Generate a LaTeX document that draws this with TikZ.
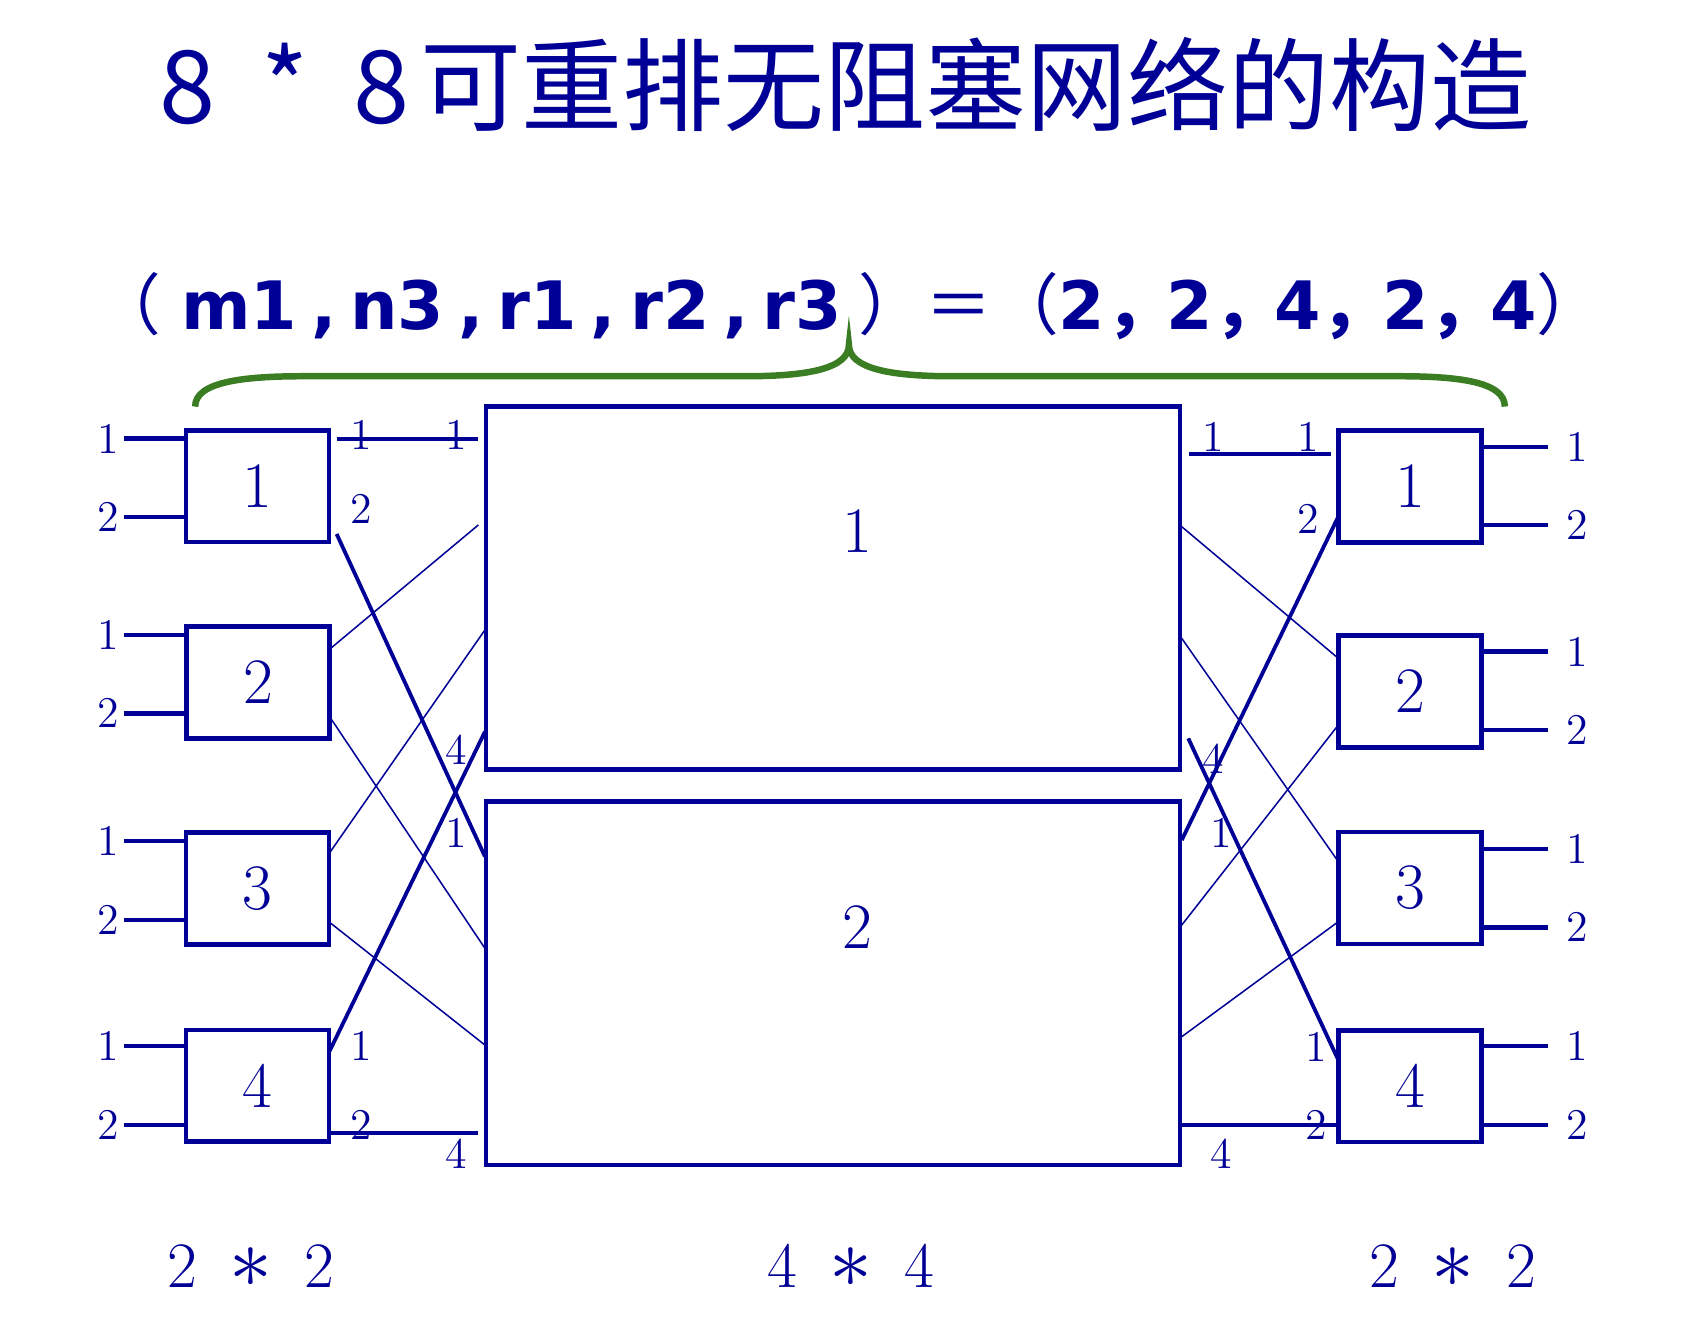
\documentclass[tikz,border=0pt]{standalone}
\usepackage{fontspec}
\usepackage{tikz}

\newfontfamily\cjk{Noto Sans CJK SC}
\newfontfamily\bsans[WordSpace=0.6]{DejaVu Sans}
\newcommand{\pbold}[1]{{\bsans\bfseries #1}}
\newcommand{\pcomma}{{\cjk\bfseries ，}\hspace{-0.08em}}

\definecolor{netblue}{RGB}{0,0,150}
\definecolor{bracegreen}{RGB}{58,125,34}

\begin{document}
\begin{tikzpicture}[x=0.01cm, y=-0.01cm,
  every node/.style={text=netblue},
  sw/.style={draw=netblue, line width=1.2pt, minimum width=1.32cm, minimum height=1.03cm, inner sep=0pt, font=\fontsize{17}{17}\selectfont},
  core/.style={draw=netblue, line width=1.2pt, minimum width=6.4cm, minimum height=3.35cm, inner sep=0pt},
  num/.style={inner sep=0pt, font=\fontsize{17}{17}\selectfont},
  lab/.style={inner sep=0pt, font=\fontsize{11.5}{11.5}\selectfont},
  inwire/.style={draw=netblue, line width=1.15pt},
  link/.style={draw=netblue, line width=1pt},
  thinlink/.style={draw=netblue, line width=0.4pt}]

\useasboundingbox (0, 0) rectangle (1568, 1229);

% title and parameters
\node [font=\cjk\fontsize{26.5}{26.5}\selectfont] (title) at (780, 78) {8\hspace{0.45em}*\hspace{0.45em}8\hspace{0.1em}可重排无阻塞网络的构造};
\node [font=\fontsize{17.5}{17.5}\selectfont] (param) at (783, 282) {{\cjk （}\hspace{0.3em}\pbold{m1 , n3 , r1 , r2 , r3}\hspace{0.25em}{\cjk ）＝（}\pbold{2}\pcomma\pbold{2}\pcomma\pbold{4}\pcomma\pbold{2}\pcomma\pbold{4}{\cjk ）}};

% brace
\draw [bracegreen, line width=1.7pt] (180, 375) .. controls (180, 352) and (225, 347) .. (280, 347) -- (688, 347)
  .. controls (745, 347) and (783, 340) .. (783, 318)
  .. controls (783, 340) and (821, 347) .. (878, 347) -- (1290, 347)
  .. controls (1345, 347) and (1388, 352) .. (1388, 375);

% switches
\node [sw] (l1) at (237.5, 448.5) {1};
\node [sw] (l2) at (238, 629.5) {2};
\node [sw] (l3) at (237.5, 819.5) {3};
\node [sw] (l4) at (237.5, 1001.5) {4};

\node [core] (m1) at (768.3, 542.3) {};
\node [core] (m2) at (768.3, 907) {};
\node [num] (m1n) at (791, 490) {1};
\node [num] (m2n) at (791, 855) {2};

\node [sw] (r1) at (1300.5, 448.7) {1};
\node [sw] (r2) at (1300.5, 637.7) {2};
\node [sw] (r3) at (1300.5, 819) {3};
\node [sw] (r4) at (1300.5, 1001.8) {4};

% inputs and outputs
\foreach \n/\ya/\yb in {1/404.5/476.6, 2/585.7/658, 3/775.7/848.6, 4/964.8/1037.6} {
  \node [lab] (lia\n) at (100, \ya) {1};
  \node [lab] (lib\n) at (100, \yb) {2};
  \coordinate (ina\n) at (114, \ya);
  \coordinate (inb\n) at (114, \yb);
  \draw [inwire] (ina\n) -- (l\n.west |- ina\n);
  \draw [inwire] (inb\n) -- (l\n.west |- inb\n);
}
\foreach \n/\ya/\yb in {1/412/484.2, 2/601/673.3, 3/783/855.3, 4/964.8/1037.6} {
  \node [lab] (roa\n) at (1455, \ya) {1};
  \node [lab] (rob\n) at (1455, \yb) {2};
  \coordinate (outa\n) at (1428, \ya);
  \coordinate (outb\n) at (1428, \yb);
  \draw [inwire] (r\n.east |- outa\n) -- (outa\n);
  \draw [inwire] (r\n.east |- outb\n) -- (outb\n);
}

% ports
\coordinate (l1o1) at (310.5, 404.9);
\coordinate (l1o2) at (310.5, 492.5);
\coordinate (l2o1) at (305, 598);
\coordinate (l2o2) at (305, 662.5);
\coordinate (l3o1) at (303.7, 787);
\coordinate (l3o2) at (304.4, 851);
\coordinate (l4o1) at (303.7, 970);
\coordinate (l4o2) at (304.4, 1044.7);

\coordinate (m1i1) at (441.2, 404.9);
\coordinate (m1i2) at (441.2, 484.2);
\coordinate (m1i3) at (447.3, 581);
\coordinate (m1i4) at (447.3, 674.9);
\coordinate (m2i1) at (447.3, 790);
\coordinate (m2i2) at (447.3, 874.7);
\coordinate (m2i3) at (447.3, 963.9);
\coordinate (m2i4) at (441.2, 1044.7);

\coordinate (m1o1) at (1096.7, 418.7);
\coordinate (m1o2) at (1090, 485.8);
\coordinate (m1o3) at (1090, 588.8);
\coordinate (m1o4) at (1096, 681);
\coordinate (m2o1) at (1090, 774.8);
\coordinate (m2o2) at (1090, 853.2);
\coordinate (m2o3) at (1090, 956.2);
\coordinate (m2o4) at (1090, 1037.6);

\coordinate (r1i1) at (1227.3, 418.7);
\coordinate (r1i2) at (1234.4, 476.5);
\coordinate (r2i1) at (1234.4, 607.2);
\coordinate (r2i2) at (1234.4, 668.7);
\coordinate (r3i1) at (1234.4, 794.7);
\coordinate (r3i2) at (1234.4, 850.1);
\coordinate (r4i1) at (1234.4, 977.7);
\coordinate (r4i2) at (1234.4, 1037.6);

% links
\draw [link] (l1o1) -- (m1i1);
\draw [link] (l1o2) -- (m2i1);
\draw [thinlink] (l2o1) -- (m1i2);
\draw [thinlink] (l2o2) -- (m2i2);
\draw [thinlink] (l3o1) -- (m1i3);
\draw [thinlink] (l3o2) -- (m2i3);
\draw [link] (l4o1) -- (m1i4);
\draw [link] (l4o2) -- (m2i4);

\draw [link] (m1o1) -- (r1i1);
\draw [thinlink] (m1o2) -- (r2i1);
\draw [thinlink] (m1o3) -- (r3i1);
\draw [link] (m1o4) -- (r4i1);
\draw [link] (m2o1) -- (r1i2);
\draw [thinlink] (m2o2) -- (r2i2);
\draw [thinlink] (m2o3) -- (r3i2);
\draw [link] (m2o4) -- (r4i2);

% port numbers
\node [lab] (pl1) at (333.6, 401) {1};
\node [lab] (pl2) at (421, 401) {1};
\node [lab] (pl3) at (333.6, 469.8) {2};
\node [lab] (pl4) at (421, 768.6) {1};
\node [lab] (pl5) at (421, 691.8) {4};
\node [lab] (pl6) at (333.6, 964.8) {1};
\node [lab] (pl7) at (333.6, 1037.6) {2};
\node [lab] (pl8) at (421, 1063.8) {4};

\node [lab] (pr1) at (1119, 403.4) {1};
\node [lab] (pr2) at (1206.7, 403.4) {1};
\node [lab] (pr3) at (1206.7, 479) {2};
\node [lab] (pr4) at (1119, 699.4) {4};
\node [lab] (pr5) at (1126.8, 768) {1};
\node [lab] (pr6) at (1214.4, 965.4) {1};
\node [lab] (pr7) at (1214.4, 1037.6) {2};
\node [lab] (pr8) at (1126.8, 1063.8) {4};

% sizes
\node [num] (lsize) at (231.5, 1167.4) {2\enspace\scalebox{1.3}{$\ast$}\enspace2};
\node [num] (msize) at (785, 1167.4) {4\enspace\scalebox{1.3}{$\ast$}\enspace4};
\node [num] (rsize) at (1340, 1167.4) {2\enspace\scalebox{1.3}{$\ast$}\enspace2};

\end{tikzpicture}
\end{document}
